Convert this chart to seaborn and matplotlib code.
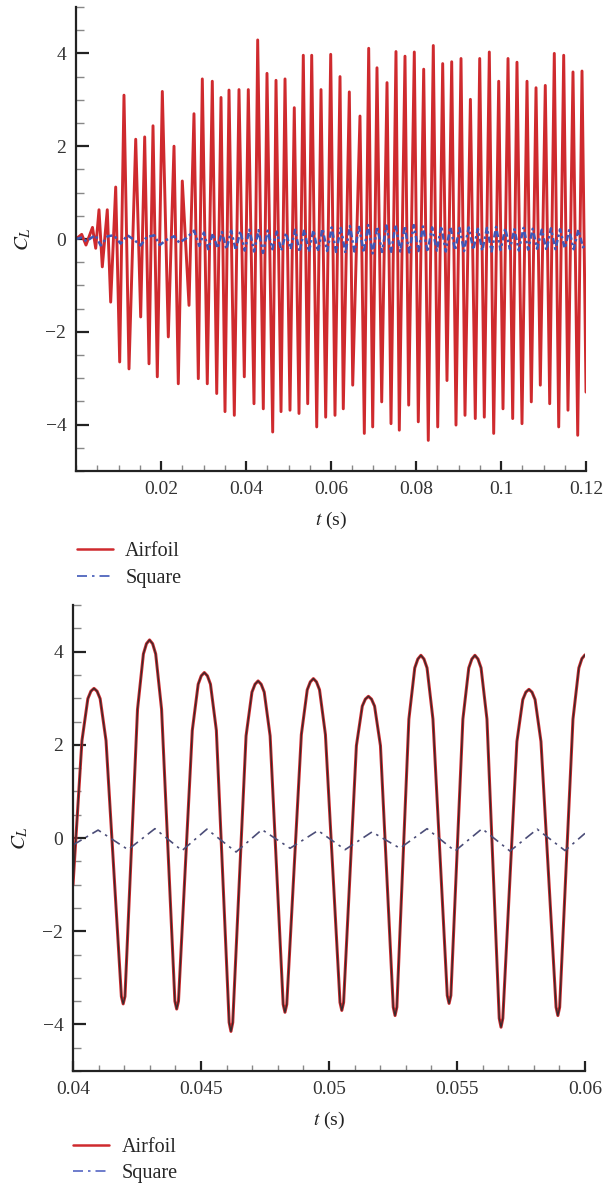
import numpy as np
import pandas as pd
import matplotlib
matplotlib.use('Agg')
import matplotlib.pyplot as plt
from matplotlib.lines import Line2D
from matplotlib.ticker import MultipleLocator, FormatStrFormatter
import seaborn as sns

# ---- data ----
# top panel, airfoil: successive extremes of C_L
air_top_t = [0.0, 0.00134, 0.00235, 0.00388, 0.00464, 0.00541, 0.00619, 0.00736, 0.00816, 0.00934,
             0.01028, 0.01129, 0.01247, 0.01405, 0.01522, 0.01616, 0.01718, 0.01812, 0.01913, 0.02031,
             0.02172, 0.02306, 0.02407, 0.02501, 0.02659, 0.02776, 0.02878, 0.02972, 0.03089, 0.03207,
             0.03311, 0.03412, 0.03506, 0.03600, 0.03725, 0.03835, 0.03960, 0.04054, 0.04188, 0.04275,
             0.04407, 0.04494, 0.04628, 0.04706, 0.04824, 0.04918, 0.05035, 0.05136, 0.05247, 0.05348,
             0.05452, 0.05546, 0.05664, 0.05765, 0.05875, 0.05993, 0.06094, 0.06212, 0.06289, 0.06431,
             0.06511, 0.06682, 0.06784, 0.06887, 0.06981, 0.07082, 0.07193, 0.07318, 0.07412, 0.07529,
             0.07607, 0.07741, 0.07828, 0.07960, 0.08054, 0.08181, 0.08289, 0.08407, 0.08511, 0.08628,
             0.08729, 0.08840, 0.08941, 0.09059, 0.09153, 0.09280, 0.09395, 0.09499, 0.09607, 0.09725,
             0.09828, 0.09946, 0.10047, 0.10165, 0.10275, 0.10376, 0.10494, 0.10612, 0.10713, 0.10824,
             0.10925, 0.11042, 0.11146, 0.11254, 0.11358, 0.11475, 0.11576, 0.11694, 0.11805, 0.11906,
             0.12000]
air_top_cl = [0.00, 0.10, -0.13, 0.25, -0.20, 0.63, -0.60, 0.63, -1.36, 1.12,
              -2.65, 3.10, -2.80, 2.15, -1.68, 2.20, -2.69, 2.44, -2.97, 3.18,
              -2.11, 2.00, -3.12, 1.25, -1.43, 2.70, -3.01, 3.45, -3.12, 3.40,
              -3.33, 3.05, -3.72, 3.21, -3.80, 3.22, -2.97, 3.22, -3.55, 4.29,
              -3.66, 3.57, -4.16, 3.42, -3.72, 3.45, -3.69, 2.83, -3.76, 3.96,
              -3.55, 3.96, -4.05, 3.22, -3.84, 3.98, -3.80, 3.50, -3.66, 3.17,
              -3.15, 2.65, -4.19, 4.11, -4.05, 3.69, -3.51, 3.37, -3.98, 4.04,
              -4.12, 3.94, -3.58, 4.03, -3.94, 3.66, -4.34, 4.17, -4.05, 3.78,
              -3.05, 3.82, -4.01, 3.89, -3.80, 3.01, -3.87, 3.89, -3.84, 4.03,
              -4.19, 3.40, -3.66, 3.89, -3.87, 3.81, -3.98, 3.40, -3.51, 3.26,
              -3.15, 3.31, -3.55, 4.00, -4.05, 3.96, -3.69, 3.60, -4.23, 3.62,
              -3.30]

# top panel, square: early slow wiggle, then peaks and troughs
sq_early_t = [0.0, 0.0012, 0.0025, 0.0035, 0.0046, 0.0058, 0.0075, 0.0089, 0.0105, 0.0121,
              0.0137, 0.0152, 0.0166, 0.0184, 0.0197, 0.0213, 0.0231, 0.0243, 0.0260, 0.0278,
              0.0290, 0.0301, 0.0311]
sq_early_cl = [0.00, 0.03, -0.05, 0.02, 0.08, -0.14, 0.06, 0.08, -0.10, 0.08,
               -0.02, -0.14, 0.04, 0.08, -0.13, -0.02, 0.06, -0.08, 0.02, 0.18,
               -0.15, 0.14, -0.22]
sq_peak_t = [0.0322, 0.03435, 0.0365, 0.03865, 0.0408, 0.04295, 0.0451, 0.04725, 0.0494, 0.05155,
             0.0537, 0.05585, 0.0580, 0.06015, 0.0623, 0.06445, 0.0666, 0.06875, 0.0709, 0.07305,
             0.0752, 0.07735, 0.0795, 0.08165, 0.0838, 0.08595, 0.0881, 0.09025, 0.0924, 0.09455,
             0.0967, 0.09885, 0.1010, 0.10315, 0.1053, 0.10745, 0.1096, 0.11175, 0.1139, 0.11605,
             0.1182]
sq_peak_cl = [0.12, 0.15, 0.18, 0.17, 0.20, 0.19, 0.18, 0.16, 0.13, 0.20,
              0.20, 0.19, 0.22, 0.25, 0.24, 0.28, 0.26, 0.30, 0.27, 0.29,
              0.31, 0.28, 0.30, 0.27, 0.25, 0.28, 0.26, 0.24, 0.25, 0.22,
              0.24, 0.26, 0.23, 0.21, 0.24, 0.22, 0.20, 0.23, 0.21, 0.19,
              0.20]
sq_trough_t = [0.0333, 0.0354, 0.0376, 0.0397, 0.0419, 0.0440, 0.0462, 0.0483, 0.0505, 0.0526,
               0.0548, 0.0569, 0.0591, 0.0612, 0.0634, 0.0655, 0.0677, 0.0698, 0.0720, 0.0741,
               0.0763, 0.0784, 0.0806, 0.0827, 0.0849, 0.0870, 0.0892, 0.0913, 0.0935, 0.0956,
               0.0978, 0.0999, 0.1021, 0.1042, 0.1064, 0.1085, 0.1107, 0.1128, 0.1150, 0.1171,
               0.1193, 0.1200]
sq_trough_cl = [-0.20, -0.22, -0.24, -0.25, -0.27, -0.30, -0.22, -0.25, -0.22, -0.28,
                -0.28, -0.27, -0.26, -0.28, -0.30, -0.27, -0.29, -0.31, -0.28, -0.30,
                -0.27, -0.29, -0.26, -0.28, -0.25, -0.27, -0.24, -0.26, -0.23, -0.25,
                -0.27, -0.24, -0.22, -0.25, -0.23, -0.21, -0.24, -0.22, -0.20, -0.22,
                -0.18, -0.10]

# bottom panel (zoom 0.04 - 0.06)
air_bot_t = [0.04000, 0.04035, 0.04058, 0.04070, 0.04082, 0.04094, 0.04106, 0.04129,
             0.04189, 0.04196, 0.04203,
             0.04252, 0.04275, 0.04287, 0.04299, 0.04311, 0.04323, 0.04346,
             0.04398, 0.04405, 0.04412,
             0.04466, 0.04489, 0.04501, 0.04513, 0.04525, 0.04537, 0.04560,
             0.04610, 0.04617, 0.04624,
             0.04676, 0.04699, 0.04711, 0.04723, 0.04735, 0.04747, 0.04770,
             0.04821, 0.04828, 0.04835,
             0.04892, 0.04915, 0.04927, 0.04939, 0.04951, 0.04963, 0.04986,
             0.05043, 0.05050, 0.05057,
             0.05107, 0.05130, 0.05142, 0.05154, 0.05166, 0.05178, 0.05201,
             0.05251, 0.05258, 0.05265,
             0.05312, 0.05335, 0.05347, 0.05359, 0.05371, 0.05383, 0.05406,
             0.05462, 0.05469, 0.05476,
             0.05523, 0.05546, 0.05558, 0.05570, 0.05582, 0.05594, 0.05617,
             0.05665, 0.05672, 0.05679,
             0.05734, 0.05757, 0.05769, 0.05781, 0.05793, 0.05805, 0.05828,
             0.05887, 0.05894, 0.05901,
             0.05953, 0.05976, 0.05988, 0.06000]
air_bot_cl = [-1.00, 2.09, 2.99, 3.15, 3.21, 3.15, 2.99, 2.09,
              -3.40, -3.56, -3.40,
              2.76, 3.95, 4.17, 4.25, 4.17, 3.95, 2.76,
              -3.50, -3.67, -3.50,
              2.31, 3.30, 3.48, 3.55, 3.48, 3.30, 2.31,
              -3.96, -4.15, -3.96,
              2.19, 3.13, 3.30, 3.37, 3.30, 3.13, 2.19,
              -3.57, -3.74, -3.57,
              2.22, 3.18, 3.35, 3.42, 3.35, 3.18, 2.22,
              -3.53, -3.70, -3.53,
              1.98, 2.83, 2.98, 3.04, 2.98, 2.83, 1.98,
              -3.63, -3.81, -3.63,
              2.55, 3.65, 3.84, 3.92, 3.84, 3.65, 2.55,
              -3.38, -3.55, -3.38,
              2.55, 3.65, 3.84, 3.92, 3.84, 3.65, 2.55,
              -3.87, -4.06, -3.87,
              2.07, 2.97, 3.13, 3.19, 3.13, 2.97, 2.07,
              -3.63, -3.81, -3.63,
              2.55, 3.65, 3.85, 3.93]
sq_bot_t = [0.04000, 0.04098, 0.04215, 0.04320, 0.04426, 0.04523, 0.04637, 0.04738, 0.04848, 0.04957,
            0.05063, 0.05168, 0.05277, 0.05383, 0.05492, 0.05598, 0.05707, 0.05813, 0.05922, 0.06000]
sq_bot_cl = [-0.15, 0.17, -0.25, 0.20, -0.27, 0.19, -0.30, 0.18, -0.22, 0.16,
             -0.25, 0.13, -0.22, 0.20, -0.28, 0.20, -0.28, 0.19, -0.27, 0.10]

yticks = [-4, -2, 0, 2, 4]
xticks_top = [0.02, 0.04, 0.06, 0.08, 0.1, 0.12]
xticks_bot = [0.04, 0.045, 0.05, 0.055, 0.06]

# ---- style ----
sns.set_style('ticks')
plt.rcParams['font.family'] = ['Liberation Serif', 'DejaVu Serif']
plt.rcParams['mathtext.fontset'] = 'stix'
plt.rcParams['font.size'] = 14

red = '#cf2a2e'
blue = '#3f58b8'
dark = '#3a2a2c'
sq_dark = '#4b4d78'
dashdot = (0, (6, 3, 1.5, 3))
dashdot_small = (0, (2.5, 1.2, 1, 1.2))

sq_top = pd.concat([
    pd.DataFrame({'t': sq_early_t, 'cl': sq_early_cl}),
    pd.DataFrame({'t': sq_peak_t, 'cl': sq_peak_cl}),
    pd.DataFrame({'t': sq_trough_t, 'cl': sq_trough_cl}),
]).sort_values('t')

fig = plt.figure(figsize=(6.05, 11.89), dpi=100)
ax1 = fig.add_axes([76 / 605, 1 - 471 / 1189, 510 / 605, 464 / 1189])
ax2 = fig.add_axes([73 / 605, 1 - 1071 / 1189, 512 / 605, 466 / 1189])

sns.lineplot(x=air_top_t, y=air_top_cl, ax=ax1, color=red, lw=2.1, sort=False, estimator=None)
sns.lineplot(x=sq_top['t'].values, y=sq_top['cl'].values, ax=ax1, color=blue, lw=1.8,
             linestyle=dashdot_small, sort=False, estimator=None)

sns.lineplot(x=air_bot_t, y=air_bot_cl, ax=ax2, color=red, lw=2.2, sort=False, estimator=None)
sns.lineplot(x=air_bot_t, y=air_bot_cl, ax=ax2, color=dark, lw=1.0, sort=False, estimator=None)
sns.lineplot(x=sq_bot_t, y=sq_bot_cl, ax=ax2, color=sq_dark, lw=1.2,
             linestyle=dashdot, sort=False, estimator=None)

for ax, xt, xlim, xminor in [(ax1, xticks_top, (0, 0.12), 0.005),
                             (ax2, xticks_bot, (0.04, 0.06), 0.001)]:
    ax.set_xlim(*xlim)
    ax.set_ylim(-5, 5)
    ax.set_xticks(xt)
    ax.xaxis.set_major_formatter(FormatStrFormatter('%g'))
    ax.set_yticks(yticks)
    ax.xaxis.set_minor_locator(MultipleLocator(xminor))
    ax.yaxis.set_minor_locator(MultipleLocator(0.5))
    sns.despine(ax=ax)
    for s in ['left', 'bottom']:
        ax.spines[s].set_linewidth(1.6)
        ax.spines[s].set_color('#222222')
    ax.tick_params(axis='both', which='both', direction='in', labelsize=14,
                   labelcolor='#333333', pad=7)
    ax.tick_params(axis='y', which='major', length=9, width=1.6, color='#222222')
    ax.tick_params(axis='y', which='minor', length=5.5, width=1.0, color='#888888')
    ax.tick_params(axis='x', which='major', length=7.5, width=1.6, color='#222222')
    ax.tick_params(axis='x', which='minor', length=4.5, width=1.0, color='#888888')
    ax.set_xlabel(r'$t$ (s)', fontsize=14, color='#222222', labelpad=9)
    ax.set_ylabel(r'$C_L$', fontsize=15, color='#222222', labelpad=9)

handles_top = [Line2D([], [], color=red, lw=1.8),
               Line2D([], [], color=blue, lw=1.2, linestyle=dashdot)]
handles_bot = [Line2D([], [], color=red, lw=1.8),
               Line2D([], [], color='#5566c4', lw=1.2, linestyle=dashdot)]
labels = ['Airfoil', 'Square']

fig.legend(handles_top, labels, loc='upper left', bbox_to_anchor=(0.127, 0.544),
           frameon=False, fontsize=14.5, borderpad=0, borderaxespad=0,
           handlelength=1.8, handletextpad=0.6, labelspacing=0.4)
fig.legend(handles_bot, labels, loc='upper left', bbox_to_anchor=(0.121, 0.043),
           frameon=False, fontsize=14.5, borderpad=0, borderaxespad=0,
           handlelength=1.8, handletextpad=0.6, labelspacing=0.34)

fig.savefig('out.png', dpi=100)
